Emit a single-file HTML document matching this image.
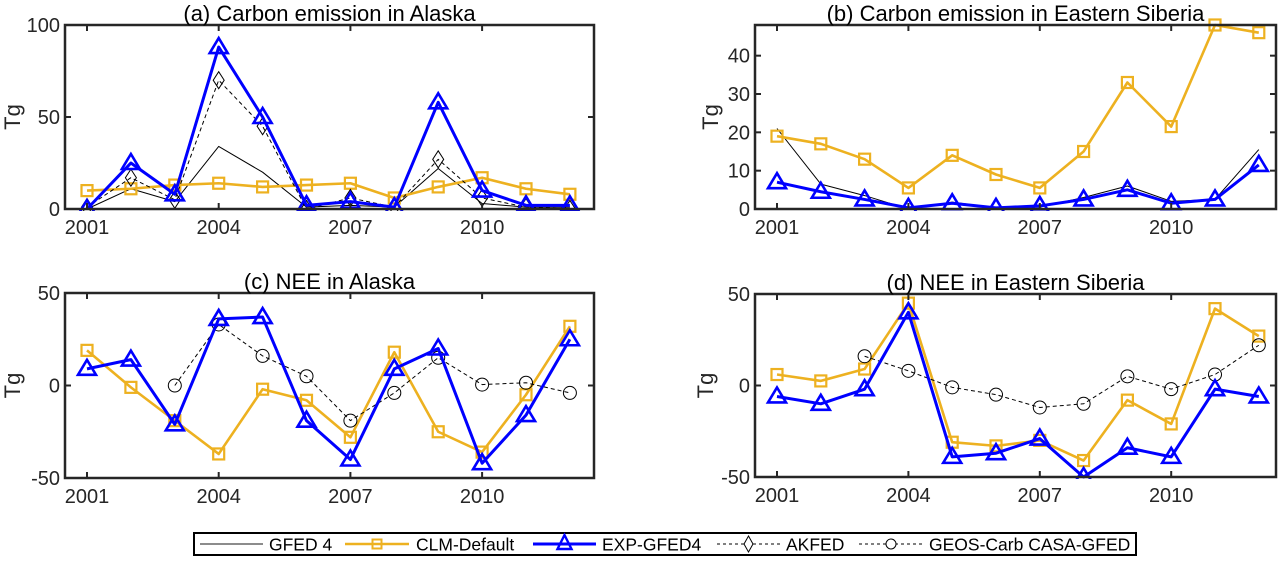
<!DOCTYPE html>
<html><head><meta charset="utf-8"><style>
body{margin:0;background:#fff;}
svg{display:block;font-family:"Liberation Sans",Arial,sans-serif;}
</style></head><body>
<svg id="fig" width="1281" height="564" viewBox="0 0 1281 564"></svg>
<script>
const years = [2001,2002,2003,2004,2005,2006,2007,2008,2009,2010,2011,2012];
const xTicks = [2001,2004,2007,2010];
const aGFED = [0,11,4,34,20,1,2,1,22,3,1,1];
const aCLM = [10,11,13,14,12,13,14,6,12,17,11,8];
const aEXP = [0,25,8,88,50,2,4,1,58,10,2,2];
const aAKFED = [1,17,5,70,45,0,6,1,27,6,1,0];
const bGFED = [21,6.5,3.5,0,1.8,0.3,0.5,3,6,2,2.5,15.5];
const bCLM = [19,17,13,5.5,14,9,5.5,15,33,21.5,48,46];
const bEXP = [7,4.5,2.5,0.3,1.5,0.3,0.8,2.5,5,1.5,2.5,11.5];
const cCLM = [19,-1,-19,-37,-2,-8,-28,18,-25,-36,-5,32];
const cEXP = [9,14,-21,36,37,-19,-40,9,20,-42,-16,25];
const cGEOS = [null,null,0,33,16,5,-19,-4,15,0.5,1.5,-4];
const dCLM = [6,2.5,9,45,-31,-33,-30,-41,-8,-21,42,27];
const dEXP = [-6,-10,-2,40,-39,-37,-29,-50,-34,-39,-2,-6];
const dGEOS = [null,null,16,8,-1,-5,-12,-10,5,-2,6,22];
const aYTicks = [0,50,100];
const bYTicks = [0,10,20,30,40];
const cdYTicks = [-50,0,50];

const NS='http://www.w3.org/2000/svg';
const svg=document.getElementById('fig');
function mk(tag,attrs,parent){const e=document.createElementNS(NS,tag);for(const k in attrs)e.setAttribute(k,attrs[k]);(parent||svg).appendChild(e);return e;}
const ORANGE='#EDB120', BLUE='#0000FF', AX='#262626';

function marker(g,type,x,y,color){
  let e;
  if(type==='sq'){e=mk('rect',{x:x-5.5,y:y-5.5,width:11,height:11,fill:'none',stroke:color,'stroke-width':2.2},g);}
  else if(type==='tri'){e=mk('polygon',{points:`${x},${y-9} ${x-9},${y+6} ${x+9},${y+6}`,fill:'none',stroke:color,'stroke-width':2.6},g);}
  else if(type==='dia'){e=mk('polygon',{points:`${x},${y-8.5} ${x+5.5},${y} ${x},${y+8.5} ${x-5.5},${y}`,fill:'none',stroke:color,'stroke-width':1},g);}
  else if(type==='circ'){e=mk('circle',{cx:x,cy:y,r:6.5,fill:'none',stroke:color,'stroke-width':1},g);}
  return e;
}

function panel(p){
  const g=mk('g',{});
  
  
  const X=v=>p.x2001+(v-2001)*p.step;
  const Y=v=>p.b-(v-p.ymin)/(p.ymax-p.ymin)*(p.b-p.t);
  const clip='clip-'+p.name;
  const cp=mk('clipPath',{id:clip},g);mk('rect',{x:p.l,y:p.t-12,width:p.r-p.l,height:p.b-p.t+14},cp);
  const series=mk('g',{'clip-path':`url(#${clip})`},g);
  p.series.forEach(s=>{
    const sg=mk('g',{},series);
    
    
    let pts=[];
    s.data.forEach((v,i)=>{if(v!==null)pts.push([X(years[i]),Y(v)]);});
    const attrs={points:pts.map(q=>q.join(',')).join(' '),fill:'none',stroke:s.color,'stroke-width':s.w,'stroke-linejoin':'round'};
    if(s.dash)attrs['stroke-dasharray']=s.dash;
    mk('polyline',attrs,sg);
    if(s.m)pts.forEach(q=>marker(sg,s.m,q[0],q[1],s.color));
  });
  const box=mk('rect',{x:p.l,y:p.t,width:p.r-p.l,height:p.b-p.t,fill:'none',stroke:AX,'stroke-width':2.5},g);
  
  
  xTicks.forEach(v=>{
    const x=X(v);
    mk('line',{x1:x,y1:p.b,x2:x,y2:p.b-6,stroke:AX,'stroke-width':2},g);
    mk('line',{x1:x,y1:p.t,x2:x,y2:p.t+6,stroke:AX,'stroke-width':2},g);
    const t=mk('text',{x:x,y:p.b+25,'text-anchor':'middle','font-size':20,fill:AX},g);
    t.textContent=v;
    
    
  });
  p.yt.forEach(v=>{
    const y=Y(v);
    mk('line',{x1:p.l,y1:y,x2:p.l+6,y2:y,stroke:AX,'stroke-width':2},g);
    mk('line',{x1:p.r,y1:y,x2:p.r-6,y2:y,stroke:AX,'stroke-width':2},g);
    const t=mk('text',{x:p.l-5,y:y+7,'text-anchor':'end','font-size':20,fill:AX},g);
    t.textContent=v;
    
    
  });
  const yl=mk('text',{x:p.ylx,y:(p.t+p.b)/2,'text-anchor':'middle','font-size':22,fill:AX,transform:`rotate(-90 ${p.ylx} ${(p.t+p.b)/2})`,'dominant-baseline':'middle'},g);
  yl.textContent='Tg';
  
  
  const tt=mk('text',{x:(p.l+p.r)/2,y:p.t-4,'text-anchor':'middle','font-size':22,fill:'#000'},g);
  tt.textContent=p.title;
  
  
}
const sGFED=d=>({name:'gfed4-line',data:d,color:'#000',w:1});
const sCLM=d=>({name:'clm-default-line',data:d,color:ORANGE,w:2.6,m:'sq'});
const sEXP=d=>({name:'exp-gfed4-line',data:d,color:BLUE,w:3,m:'tri'});
const sAK=d=>({name:'akfed-line',data:d,color:'#000',w:1,dash:'4,3',m:'dia'});
const sGEOS=d=>({name:'geos-carb-line',data:d,color:'#000',w:1,dash:'4,3',m:'circ'});

panel({name:'panel-a',title:'(a) Carbon emission in Alaska',l:65,r:594,t:25,b:209,x2001:87,step:43.9,ymin:0,ymax:100,yt:aYTicks,ylx:14,
  series:[sGFED(aGFED),sCLM(aCLM),sAK(aAKFED),sEXP(aEXP)]});
panel({name:'panel-b',title:'(b) Carbon emission in Eastern Siberia',l:755,r:1276,t:25,b:209,x2001:777,step:43.8,ymin:0,ymax:48,yt:bYTicks,ylx:712,
  series:[sGFED(bGFED),sCLM(bCLM),sEXP(bEXP)]});
panel({name:'panel-c',title:'(c) NEE in Alaska',l:65,r:594,t:293,b:478,x2001:87,step:43.9,ymin:-50,ymax:50,yt:cdYTicks,ylx:14,
  series:[sCLM(cCLM),sGEOS(cGEOS),sEXP(cEXP)]});
panel({name:'panel-d',title:'(d) NEE in Eastern Siberia',l:755,r:1276,t:294,b:477,x2001:777,step:43.8,ymin:-50,ymax:50,yt:cdYTicks,ylx:707,
  series:[sCLM(dCLM),sGEOS(dGEOS),sEXP(dEXP)]});

const lg=mk('g',{});


mk('rect',{x:194,y:533,width:942,height:22,fill:'#fff',stroke:'#000','stroke-width':2},lg);
const items=[
 {label:'GFED 4',x1:200,x2:263,tx:269,color:'#666',w:1.5},
 {label:'CLM-Default',x1:345,x2:409,tx:416,color:ORANGE,w:2.6,m:'sq'},
 {label:'EXP-GFED4',x1:533,x2:596,tx:602,color:BLUE,w:3,m:'tri'},
 {label:'AKFED',x1:717,x2:780,tx:786,color:'#000',w:1,dash:'3,3',m:'dia'},
 {label:'GEOS-Carb CASA-GFED',x1:859,x2:923,tx:929,color:'#000',w:1,dash:'3,3',m:'circ'}
];
items.forEach(it=>{
  const ig=mk('g',{},lg);
  
  
  const a={x1:it.x1,y1:544,x2:it.x2,y2:544,stroke:it.color,'stroke-width':it.w};
  if(it.dash)a['stroke-dasharray']=it.dash;
  mk('line',a,ig);
  const cx=(it.x1+it.x2)/2;
  if(it.m==='sq')mk('rect',{x:cx-4.5,y:539.5,width:9,height:9,fill:'none',stroke:it.color,'stroke-width':2},ig);
  if(it.m==='tri')mk('polygon',{points:`${cx},${535} ${cx-7},${549} ${cx+7},${549}`,fill:'none',stroke:it.color,'stroke-width':2.4},ig);
  if(it.m==='dia')mk('polygon',{points:`${cx},${536} ${cx+4.5},${544} ${cx},${552} ${cx-4.5},${544}`,fill:'#fff',stroke:'#000','stroke-width':1},ig);
  if(it.m==='circ')mk('circle',{cx:cx,cy:544,r:5,fill:'#fff',stroke:'#000','stroke-width':1},ig);
  const t=mk('text',{x:it.tx,y:550.5,'font-size':17.5,fill:'#000'},ig);
  t.textContent=it.label;
});
</script>
</body></html>
